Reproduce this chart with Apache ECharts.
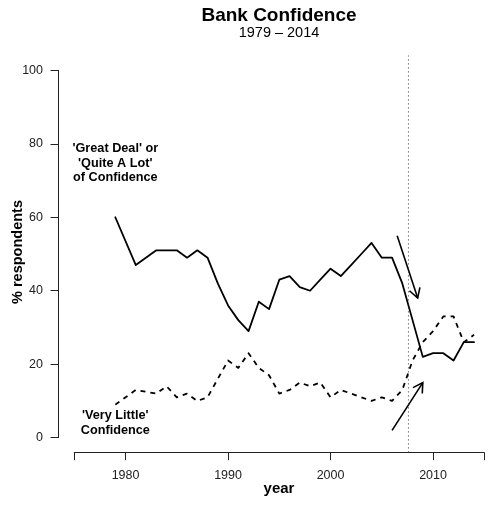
<!DOCTYPE html>
<html><head><meta charset="utf-8">
<script src="https://cdn.jsdelivr.net/npm/echarts@6/dist/echarts.min.js"></script>
<style>html,body{margin:0;padding:0;background:#fff}#c{width:495px;height:506px}</style>
</head><body><div id="c"></div>
<script>
// ---- data ----
const years = [1979,1981,1983,1984,1985,1986,1987,1988,1989,1990,1991,1992,1993,1994,1995,1996,1997,1998,1999,2000,2001,2002,2003,2004,2005,2006,2007,2008,2009,2010,2011,2012,2013,2014];
const greatDeal = [60,47,51,51,51,49,51,49,42,36,32,29,37,35,43,44,41,40,43,46,44,47,50,53,49,49,42,32,22,23,23,21,26,26];
const veryLittle = [9,13,12,14,11,12,10,11,16,21,19,23,19,17,12,13,15,14,15,11,13,12,11,10,11,10,13,21,26,29,33,33,26,28];
const xTicks = [1975,1980,1990,2000,2010,2015];
const xTickLabels = [1980,1990,2000,2010];
const yTicks = [0,20,40,60,80,100];
const refYear = 2007.6;          // dotted reference line
const yRegion = [-4, 104];        // vertical extent of plot region
const arrows = [[2006.5,55,2008.5,38],[2006,2,2009,15]];
const noteText = ["'Great Deal' or\n'Quite A Lot'\nof Confidence", "'Very Little'\nConfidence"];
const notePos = [[1979,74.7],[1979,4]];
const titleText = 'Bank Confidence';
const subtitleText = '1979 \u2013 2014';
const xName = 'year';
const yName = '% respondents';

const FF = '"Liberation Sans", Arial, Helvetica, sans-serif';
const chart = echarts.init(document.getElementById('c'), null, {renderer:'canvas'});
const toPairs = (xs, ys) => xs.map((x,i)=>[x, ys[i]]);
const axisCol = '#222';

chart.setOption({
  animation:false,
  backgroundColor:'#fff',
  grid:{left:74.3, right:10.7, top:70.3, bottom:68.3, containLabel:false, outerBoundsMode:'none'},
  xAxis:{type:'value', min:xTicks[0], max:xTicks[xTicks.length-1], offset:15,
    axisLine:{show:true, onZero:false, lineStyle:{color:axisCol, width:1}},
    axisTick:{show:true, length:7.5, customValues:xTicks, lineStyle:{color:axisCol, width:1}},
    axisLabel:{show:true, customValues:xTickLabels, formatter:v=>String(v), fontSize:12.5, fontFamily:FF, color:'#222', margin:16},
    splitLine:{show:false}},
  yAxis:{type:'value', min:yTicks[0], max:yTicks[yTicks.length-1], interval:20, offset:16.3,
    axisLine:{show:true, onZero:false, lineStyle:{color:axisCol, width:1}},
    axisTick:{show:true, length:7.5, lineStyle:{color:axisCol, width:1}},
    axisLabel:{show:true, formatter:v=>String(v), fontSize:12.5, fontFamily:FF, color:'#222', margin:15},
    splitLine:{show:false}},
  graphic:[
    {type:'text', x:279, y:15.5, style:{text:titleText, font:'bold 19px '+FF, fill:'#000', align:'center', verticalAlign:'middle'}},
    {type:'text', x:279, y:32.5, style:{text:subtitleText, font:'14.5px '+FF, fill:'#000', align:'center', verticalAlign:'middle'}},
    {type:'text', x:279, y:489, style:{text:xName, font:'bold 15px '+FF, fill:'#000', align:'center', verticalAlign:'middle'}},
    {type:'text', x:17.5, y:252, rotation:Math.PI/2, style:{text:yName, font:'bold 14.5px '+FF, fill:'#000', align:'center', verticalAlign:'middle'}}
  ],
  series:[
    {type:'line', data:toPairs(years, greatDeal), showSymbol:false, symbol:'none', silent:true,
      lineStyle:{color:'#000', width:1.8, join:'round', cap:'round'}},
    {type:'line', data:toPairs(years, veryLittle), showSymbol:false, symbol:'none', silent:true,
      lineStyle:{color:'#000', width:1.8, type:[5,5], join:'round'}},
    {type:'line', data:[[refYear, yRegion[0]],[refYear, yRegion[1]]], showSymbol:false, symbol:'none', clip:false, silent:true,
      lineStyle:{color:'#333', width:1, type:[1,3]}},
    {type:'custom', data:arrows, clip:false, silent:true, encode:{x:[0,2], y:[1,3]},
      renderItem(params, api){
        const p0 = api.coord([api.value(0), api.value(1)]);
        const p1 = api.coord([api.value(2), api.value(3)]);
        const ang = Math.atan2(p1[1]-p0[1], p1[0]-p0[0]);
        const L = 11, a = Math.PI/6;
        const h1 = [p1[0]-L*Math.cos(ang-a), p1[1]-L*Math.sin(ang-a)];
        const h2 = [p1[0]-L*Math.cos(ang+a), p1[1]-L*Math.sin(ang+a)];
        return {type:'group', children:[
          {type:'line', shape:{x1:p0[0], y1:p0[1], x2:p1[0], y2:p1[1]}, style:{stroke:'#000', lineWidth:1.6}},
          {type:'polyline', shape:{points:[h1, p1, h2]}, style:{stroke:'#000', lineWidth:1.6, fill:null}}
        ]};
      }},
    {type:'custom', data:notePos, clip:false, silent:true,
      renderItem(params, api){
        const p = api.coord([api.value(0), api.value(1)]);
        return {type:'text', x:p[0], y:p[1], style:{text:noteText[params.dataIndex], font:'bold 12.7px '+FF, lineHeight:14.4, fill:'#000', align:'center', verticalAlign:'middle'}};
      }}
  ]
});
</script></body></html>
